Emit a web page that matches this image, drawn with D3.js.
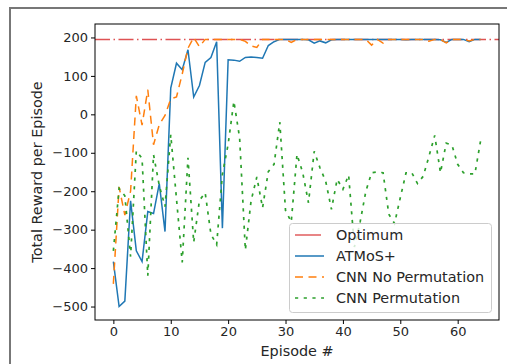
<!DOCTYPE html>
<html>
<head>
<meta charset="utf-8">
<script src="https://cdn.jsdelivr.net/npm/d3@7"></script>
<style>
    body { margin: 0; background: #fff; }
    text { font-family: 'DejaVu Sans', sans-serif; fill: #262626; }
    .axis path, .axis line { stroke: #000; }
</style>
</head>
<body>
<div id="chart"></div>
<script>
// Series values, one per episode (0..64)
var optimum = 195;
var atmos = [-383, -500, -486, -225, -355, -383, -253, -258, -180, -305,
    68, 133, 116, 168, 45, 75, 135, 148, 189, -296,
    142, 141, 138, 148, 149, 148, 146, 179, 189, 195,
    195, 195, 195, 195, 194, 185, 191, 186, 194, 195,
    195, 195, 195, 195, 195, 195, 195, 195, 195, 195,
    195, 194, 195, 195, 195, 195, 195, 194, 187, 195,
    195, 195, 189, 195, 195];
var cnnNoPerm = [-441, -189, -262, -200, 48, -28, 64, -79, -27, -3,
    40, 45, 105, 172, 200, 176, 195, 195, 195, 195,
    195, 195, 195, 190, 178, 174, 195, 195, 195, 195,
    195, 187, 195, 195, 195, 195, 195, 195, 195, 195,
    195, 195, 195, 195, 195, 180, 195, 185, 195, 195,
    195, 195, 195, 195, 195, 190, 195, 195, 186, 195,
    195, 195, 191, 195, 195];
var cnnPerm = [-355, -193, -212, -370, -95, -115, -420, -105, -185, -240,
    -53, -220, -385, -113, -333, -224, -204, -312, -339, -156,
    -78, 34, -61, -353, -225, -163, -243, -149, -130, -20,
    -250, -280, -104, -152, -230, -96, -139, -174, -247, -169,
    -195, -158, -345, -280, -200, -152, -150, -152, -260, -284,
    -217, -152, -152, -180, -161, -109, -55, -152, -75, -80,
    -130, -152, -155, -155, -68];

var xTicks = [0, 10, 20, 30, 40, 50, 60];
var yTicks = [-500, -400, -300, -200, -100, 0, 100, 200];
var seriesNames = ['Optimum', 'ATMoS+', 'CNN No Permutation', 'CNN Permutation'];

// Sizes
var W = 507, H = 364;
var pLeft = 95, pRight = 499, pTop = 24, pBottom = 320;

var colors = ['#d62728', '#1f77b4', '#ff7f0e', '#2ca02c'];
var dashes = ['15,3.5,1.5,3.5', null, '8,5.5', '3.2,5.5'];

var svg = d3.select('#chart').append('svg')
    .attr('width', W)
    .attr('height', H);

// Figure frame (top and left edges only)
svg.append('path')
    .attr('d', 'M10,' + H + 'V8H' + W)
    .attr('fill', 'none')
    .attr('stroke', '#777')
    .attr('stroke-width', 2);

var x = d3.scaleLinear().domain([-3.2, 67.2]).range([pLeft, pRight]);
var y = d3.scaleLinear().domain([-535, 235]).range([pBottom, pTop]);

svg.append('clipPath').attr('id', 'clip')
    .append('rect')
    .attr('x', pLeft).attr('y', pTop)
    .attr('width', pRight - pLeft).attr('height', pBottom - pTop);

var plot = svg.append('g').attr('clip-path', 'url(#clip)');

var line = d3.line()
    .x(function (d, i) { return x(i); })
    .y(function (d) { return y(d); });

// Optimum line across the axes
plot.append('line')
    .attr('x1', pLeft).attr('x2', pRight)
    .attr('y1', y(optimum)).attr('y2', y(optimum))
    .attr('stroke', colors[0])
    .attr('stroke-opacity', 0.8)
    .attr('stroke-width', 1.5)
    .attr('stroke-dasharray', dashes[0]);

var series = [atmos, cnnNoPerm, cnnPerm];
series.forEach(function (s, k) {
    plot.append('path')
        .datum(s)
        .attr('d', line)
        .attr('fill', 'none')
        .attr('stroke', colors[k + 1])
        .attr('stroke-width', k === 2 ? 1.7 : 1.5)
        .attr('stroke-dasharray', dashes[k + 1]);
});

// Axes
var xAxis = d3.axisBottom(x).tickValues(xTicks).tickSize(4).tickPadding(3).tickSizeOuter(0);
var yAxis = d3.axisLeft(y).tickValues(yTicks).tickSize(4).tickPadding(3).tickSizeOuter(0);

svg.append('g')
    .attr('class', 'x axis')
    .attr('transform', 'translate(0,' + pBottom + ')')
    .call(xAxis)
    .call(function (g) { g.select('.domain').remove(); })
    .selectAll('text').style('font-size', '13px').attr('fill', '#262626');

svg.append('g')
    .attr('class', 'y axis')
    .attr('transform', 'translate(' + pLeft + ',0)')
    .call(yAxis)
    .call(function (g) { g.select('.domain').remove(); })
    .selectAll('text').style('font-size', '13px').attr('fill', '#262626');

// Spines
svg.append('rect')
    .attr('x', pLeft).attr('y', pTop)
    .attr('width', pRight - pLeft).attr('height', pBottom - pTop)
    .attr('fill', 'none')
    .attr('stroke', '#000')
    .attr('stroke-width', 1);

// Axis labels
svg.append('text')
    .attr('x', (pLeft + pRight) / 2)
    .attr('y', 356)
    .attr('text-anchor', 'middle')
    .style('font-size', '14.4px')
    .text('Episode #');

svg.append('text')
    .attr('transform', 'translate(37,' + (pTop + pBottom) / 2 + ') rotate(-90)')
    .attr('text-anchor', 'middle')
    .attr('dy', '0.35em')
    .style('font-size', '14.4px')
    .text('Total Reward per Episode');

// Legend
var legend = svg.append('g');
legend.append('rect')
    .attr('x', 289.5).attr('y', 223.5)
    .attr('width', 202).attr('height', 89)
    .attr('rx', 3)
    .attr('fill', '#fff')
    .attr('fill-opacity', 0.8)
    .attr('stroke', '#ccc');

seriesNames.forEach(function (name, i) {
    var ry = 235 + i * 21;
    legend.append('line')
        .attr('x1', 295).attr('x2', i === 0 ? 321 : 324)
        .attr('y1', ry).attr('y2', ry)
        .attr('stroke', colors[i])
        .attr('stroke-opacity', i === 0 ? 0.75 : 1)
        .attr('stroke-width', 1.5)
        .attr('stroke-dasharray', i === 0 ? null : dashes[i]);
    legend.append('text')
        .attr('x', 336).attr('y', ry)
        .attr('dy', '0.35em')
        .style('font-size', '14.4px')
        .text(name);
});
</script>
</body>
</html>
